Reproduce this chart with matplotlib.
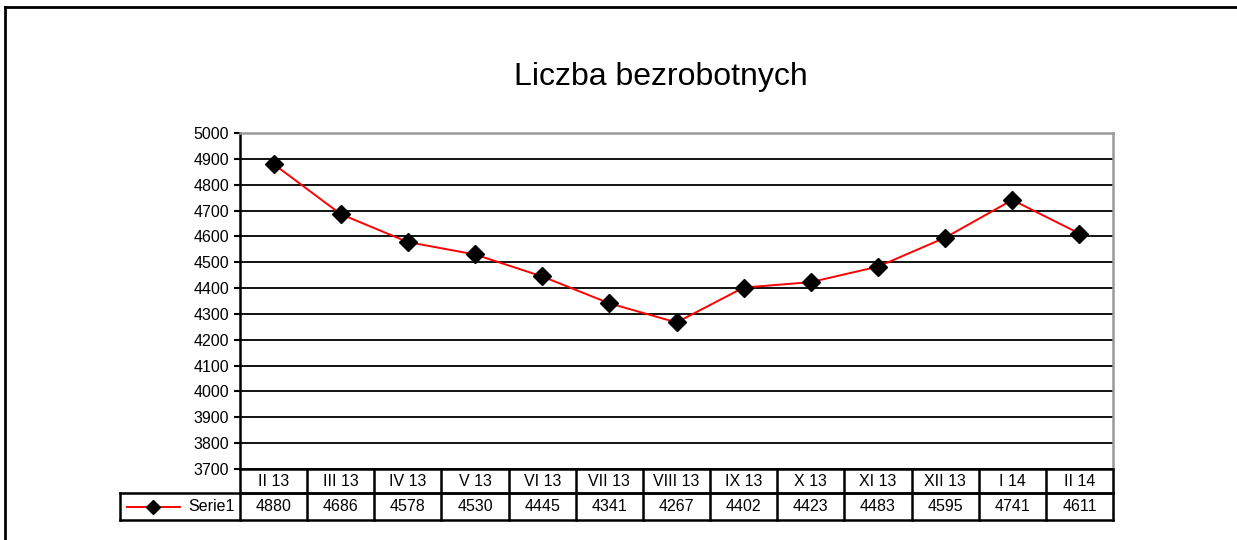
import matplotlib
matplotlib.use("Agg")
import matplotlib.pyplot as plt
from matplotlib.lines import Line2D
import matplotlib.transforms as mtransforms

plt.rcParams['font.family'] = ['Liberation Sans', 'DejaVu Sans']

# === Data ===
months = ["II 13", "III 13", "IV 13", "V 13", "VI 13", "VII 13", "VIII 13",
          "IX 13", "X 13", "XI 13", "XII 13", "I 14", "II 14"]
unemployed = [4880, 4686, 4578, 4530, 4445, 4341, 4267,
              4402, 4423, 4483, 4595, 4741, 4611]
series_name = "Serie1"
title = "Liczba bezrobotnych"

W, H = 1237, 540
fig = plt.figure(figsize=(W / 100, H / 100), dpi=100)

# plot area in pixel coords
x0, x1, y_top, y_bot = 240, 1113, 133, 469
ax = fig.add_axes([x0 / W, 1 - y_bot / H, (x1 - x0) / W, (y_bot - y_top) / H])

n = len(months)
xs = list(range(n))
ax.plot(xs, unemployed, color="red", lw=1.4, marker="D", markersize=9,
        markerfacecolor="black", markeredgecolor="black", zorder=3)

ax.set_xlim(-0.5, n - 0.5)
ax.set_ylim(3700, 5000)
ax.set_yticks(range(3700, 5001, 100))
ax.tick_params(axis="y", labelsize=11.5, length=4, width=1.5, pad=4)
ax.set_xticks([])
ax.grid(axis="y", color="black", lw=1.3)
ax.spines["left"].set_linewidth(1.8)
ax.spines["bottom"].set_linewidth(1.8)
ax.spines["top"].set_color("#999999")
ax.spines["top"].set_linewidth(1.8)
ax.spines["right"].set_color("#999999")
ax.spines["right"].set_linewidth(1.8)
ax.set_axisbelow(True)

# === Data table under the plot ===
plot_h = y_bot - y_top
r1 = -(493 - y_bot) / plot_h
r2 = -(520 - y_bot) / plot_h
leg_x = (120 - x0) / (x1 - x0)
trans = mtransforms.blended_transform_factory(ax.transData, ax.transAxes)
tab = dict(color="black", lw=1.8, clip_on=False, solid_capstyle="projecting")

for i in range(n + 1):
    ax.plot([i - 0.5, i - 0.5], [0, r2], transform=trans, **tab)
ax.plot([-0.5, n - 0.5], [r1, r1], transform=trans, **tab)
ax.plot([leg_x, 1], [r1, r1], transform=ax.transAxes, **tab)
ax.plot([leg_x, 1], [r2, r2], transform=ax.transAxes, **tab)
ax.plot([leg_x, leg_x], [r1, r2], transform=ax.transAxes, **tab)

for i, (m, v) in enumerate(zip(months, unemployed)):
    ax.text(i, r1 / 2, m, transform=trans, ha="center", va="center", fontsize=11.5)
    ax.text(i, (r1 + r2) / 2, str(v), transform=trans, ha="center", va="center",
            fontsize=11.5)

# legend key inside table
lx0 = (127 - x0) / (x1 - x0)
lx1 = (180 - x0) / (x1 - x0)
ym = (r1 + r2) / 2
ax.plot([lx0, lx1], [ym, ym], transform=ax.transAxes, color="red", lw=1.4,
        clip_on=False)
ax.plot([(lx0 + lx1) / 2], [ym], transform=ax.transAxes, marker="D",
        markersize=7, color="black", clip_on=False)
ax.text((188 - x0) / (x1 - x0), ym, series_name, transform=ax.transAxes,
        ha="left", va="center", fontsize=11.5)

fig.text(661 / W, 1 - 77 / H, title, ha="center", va="center", fontsize=23)

# outer chart frame
fig.add_artist(Line2D([5 / W, 5 / W], [0, 1 - 7 / H], color="black", lw=2))
fig.add_artist(Line2D([5 / W, 1], [1 - 7 / H, 1 - 7 / H], color="black", lw=2))

fig.savefig("out.png", dpi=100)
